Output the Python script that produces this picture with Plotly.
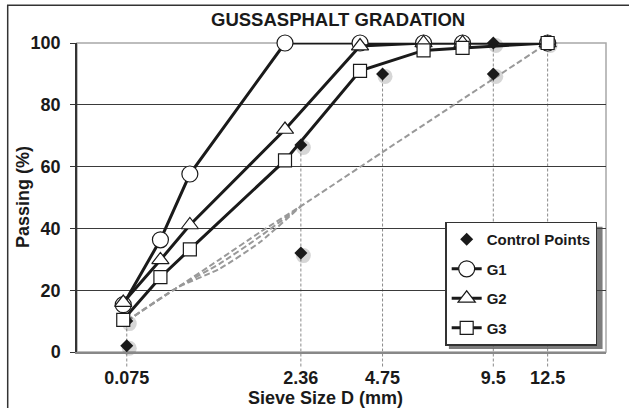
import plotly.graph_objects as go

POW = 0.45  # 0.45-power gradation chart

# G-series sieve sizes (mm) and passing (%)
sieves_g = [0.063, 0.25, 0.5, 2.0, 4.0, 6.3, 8.0, 12.5]
g1 = [15.3, 36.3, 57.6, 100, 100, 100, 100, 100]
g2 = [16.0, 29.8, 41.1, 72.0, 99.0, 100, 100, 100]
g3 = [10.4, 24.2, 33.2, 62.0, 91.0, 97.6, 98.4, 100]

# Control points
cp_sieves = [0.075, 0.075, 2.36, 2.36, 4.75, 9.5, 9.5, 12.5]
cp_values = [2, 10, 32, 67, 90, 90, 100, 100]

# Maximum density lines (dashed grey)
mdl_a_sieves = [0.075, 0.375, 0.855, 1.5, 2.36, 4.75, 9.5, 12.5]
mdl_a = [10, 20.7, 30.0, 38.8, 47.2, 64.7, 88.4, 100]
mdl_b_sieves = [0.075, 0.375, 0.855, 1.5, 2.36]
mdl_b = [10, 20.7, 28.6, 37.4, 47.2]
mdl_c_sieves = [0.075, 0.375, 0.855, 1.5, 2.36]
mdl_c = [10, 20.7, 27.0, 35.6, 47.2]

# Axis ticks
tick_sieves = [0.075, 2.36, 4.75, 9.5, 12.5]
tick_labels = ["0.075", "2.36", "4.75", "9.5", "12.5"]
y_ticks = [0, 20, 40, 60, 80, 100]

Y_RANGE = [0, 100]
X_RANGE = [-0.02, 3.505]
PLOT_W = 629 - 77 - 23
PLOT_H = 408 - 43 - 56


def tr(vals):
    return [v ** POW for v in vals]


FONT = "Liberation Sans, Arial, sans-serif"
INK = "#1a1a1a"

fig = go.Figure()

for sv, vals in [(mdl_a_sieves, mdl_a), (mdl_b_sieves, mdl_b), (mdl_c_sieves, mdl_c)]:
    fig.add_trace(go.Scatter(
        x=tr(sv), y=vals, mode="lines", showlegend=False, hoverinfo="skip",
        line=dict(color="#999999", width=2, dash="6px,3px", shape="spline", smoothing=0.6),
    ))

# soft drop shadow for the control-point markers (offset a couple of pixels right/down)
dx = 2.5 * (X_RANGE[1] - X_RANGE[0]) / PLOT_W
dy = 2.5 * (Y_RANGE[1] - Y_RANGE[0]) / PLOT_H
fig.add_trace(go.Scatter(
    x=[t + dx for t in tr(cp_sieves)], y=[v - dy for v in cp_values], mode="markers",
    showlegend=False, hoverinfo="skip",
    marker=dict(symbol="circle", size=15, color="rgba(0,0,0,0.16)", line=dict(width=0)),
    cliponaxis=False,
))

fig.add_trace(go.Scatter(
    x=tr(cp_sieves), y=cp_values, mode="markers", name="Control Points", legendgroup="cp",
    marker=dict(symbol="diamond", size=10, color=INK, line=dict(width=0)),
    cliponaxis=False,
))

for name, vals, sym, size in [("G1", g1, "circle", 16), ("G2", g2, "triangle-up", 15), ("G3", g3, "square", 13)]:
    fig.add_trace(go.Scatter(
        x=tr(sieves_g), y=vals, mode="lines+markers", name=name, legendgroup=name,
        line=dict(color=INK, width=3),
        marker=dict(symbol=sym, size=size, color="white", line=dict(color=INK, width=1.2)),
        cliponaxis=False,
    ))

shapes = []
# vertical drop lines from the top control point at each control sieve to below the axis
tops = {}
for s, v in zip(cp_sieves, cp_values):
    tops[s] = max(tops.get(s, v), v)
for s, v in tops.items():
    shapes.append(dict(
        type="line", xref="x", yref="paper",
        x0=s ** POW, x1=s ** POW,
        y0=-0.047, y1=(v - Y_RANGE[0]) / (Y_RANGE[1] - Y_RANGE[0]),
        line=dict(color="#8a8a8a", width=1, dash="3px,2px"), layer="between",
    ))
# plot-area border (light grey)
shapes.append(dict(type="rect", xref="paper", yref="paper", x0=0, x1=1, y0=0, y1=1,
                   line=dict(color="#a8a8a8", width=1.5), layer="between"))
# outer chart frame
shapes.append(dict(type="rect", xref="paper", yref="paper", x0=-0.131, x1=1.2, y0=-0.4, y1=1.122,
                   line=dict(color="#333333", width=1.5), layer="below"))
# legend drop shadow
shapes.append(dict(type="rect", xref="paper", yref="paper", x0=0.703, x1=0.9935, y0=0.010, y1=0.405,
                   line=dict(width=0), fillcolor="rgba(70,70,70,0.7)", layer="above"))

annotations = [
    dict(text="<b>GUSSASPHALT GRADATION</b>", xref="paper", yref="paper", x=0.4934, y=1.0766,
         showarrow=False, font=dict(family=FONT, size=18.5, color=INK), xanchor="center", yanchor="middle"),
    dict(text="<b>Sieve Size D (mm)</b>", xref="paper", yref="paper", x=0.469, y=-0.150,
         showarrow=False, font=dict(family=FONT, size=18, color=INK), xanchor="center", yanchor="middle"),
    dict(text="<b>Passing (%)</b>", xref="paper", yref="paper", x=-0.1028, y=0.5, textangle=-90,
         showarrow=False, font=dict(family=FONT, size=18, color=INK), xanchor="center", yanchor="middle"),
]

fig.update_layout(
    width=629, height=408,
    margin=dict(l=77, r=23, t=43, b=56),
    paper_bgcolor="white", plot_bgcolor="white",
    font=dict(family=FONT, color=INK),
    shapes=shapes, annotations=annotations,
    showlegend=True,
    legend=dict(
        x=0.696, y=0.422, xanchor="left", yanchor="top",
        bgcolor="white", bordercolor="#333333", borderwidth=1.5,
        font=dict(family=FONT, size=15, color=INK, weight="bold"),
        itemwidth=30, tracegroupgap=7,
    ),
    xaxis=dict(
        range=X_RANGE, showgrid=False, zeroline=False,
        tickmode="array", tickvals=tr(tick_sieves), ticktext=tick_labels,
        ticks="", showline=True, linecolor="#888888", linewidth=1.5,
        tickfont=dict(family=FONT, size=18, color=INK, weight="bold"),
        ticklabelstandoff=9,
    ),
    yaxis=dict(
        range=Y_RANGE, tickmode="array", tickvals=y_ticks,
        showgrid=True, gridcolor="#3a3a3a", gridwidth=1.2, zeroline=False,
        showline=True, linecolor="#333333", linewidth=1.5,
        ticks="outside", ticklen=5, tickcolor="#333333", tickwidth=1.2,
        tickfont=dict(family=FONT, size=18, color=INK, weight="bold"),
        ticklabelstandoff=6,
    ),
)

fig.write_html("out.html")
